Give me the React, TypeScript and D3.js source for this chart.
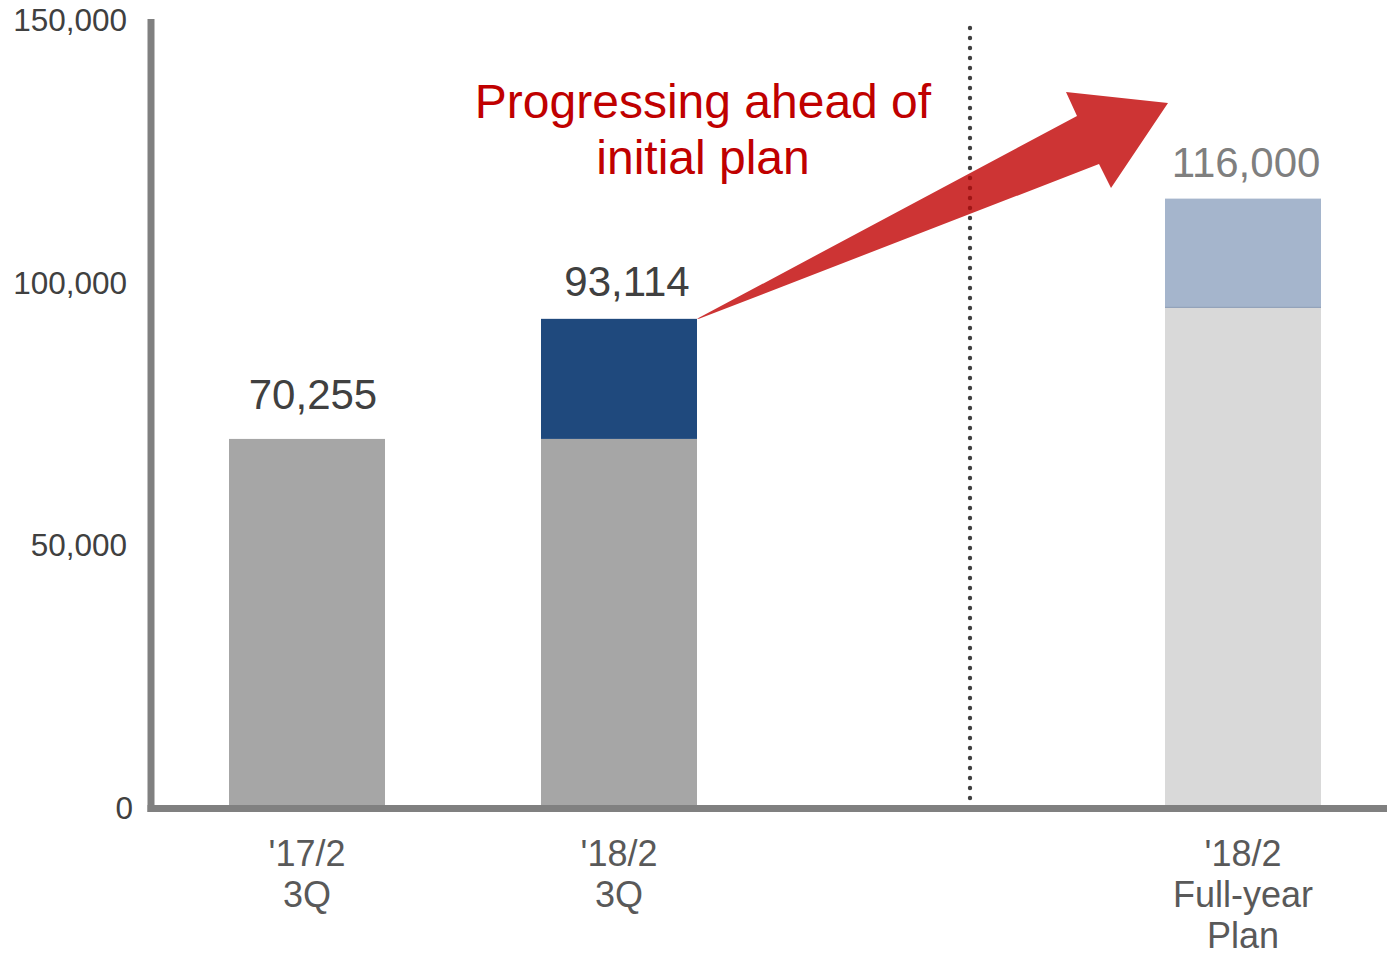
import React from "react";
import * as d3 from "d3";

const categories = ["'17/2 3Q", "'18/2 3Q", "gap", "'18/2 Full-year Plan"];
const categoryLines: string[][] = [["'17/2", "3Q"], ["'18/2", "3Q"], [], ["'18/2", "Full-year", "Plan"]];
const baseValues = [70255, 70255, 0, 95300];
const topValues = [0, 22859, 0, 20700];
const totalLabels = ["70,255", "93,114", "", "116,000"];
const baseColors = ["#a6a6a6", "#a6a6a6", "none", "#d9d9d9"];
const topColors = ["none", "#1f497d", "none", "#a5b5cc"];
const labelColors = ["#404040", "#404040", "none", "#7f7f7f"];
const yTicks = [0, 50000, 100000, 150000];
const annotationLines = ["Progressing ahead of", "initial plan"];

const W = 1387;
const H = 955;
const FONT = "'Liberation Sans', Arial, Helvetica, sans-serif";
const labelGap = [30, 23, 0, 22];
const labelShift = [6, 8, 0, 3];

export default function App() {
  const x = d3.scaleBand<string>().domain(categories).range([151, 1399]).paddingInner(0.5).paddingOuter(0.25);
  const y = d3.scaleLinear().domain([0, 150000]).range([808, 20]);
  const bw = x.bandwidth();
  const fmt = d3.format(",");

  const tailX = (x(categories[1]) as number) + bw;
  const tailY = y(baseValues[1] + topValues[1]);
  const tipX = 1168;
  const tipY = 103;
  const arrowPts: [number, number][] = [
    [tailX, tailY],
    [1077, 116],
    [1066, 92],
    [tipX, tipY],
    [1111, 188],
    [1099, 164],
    [tailX + 2, tailY],
  ];
  const arrowPath = d3.line()(arrowPts) + "Z";
  const divX = 970;

  return (
    <svg width={W} height={H} style={{ position: "absolute", left: 0, top: 0, background: "#fff" }}>
      <defs>
        <clipPath id="arrowClip">
          <path d={arrowPath} />
        </clipPath>
      </defs>
      {categories.map((c, i) => {
        const x0 = x(c) as number;
        if (c === "gap") return null;
        const b = baseValues[i];
        const t = topValues[i];
        return (
          <g key={c}>
            <rect x={x0} y={y(b)} width={bw} height={y(0) - y(b)} fill={baseColors[i]} />
            {t > 0 && (
              <rect x={x0} y={y(b + t)} width={bw} height={y(b) - y(b + t)} fill={topColors[i]} />
            )}
            {i === 3 && (
              <line x1={x0} x2={x0 + bw} y1={y(b)} y2={y(b)} stroke="#8a9ab4" strokeWidth={1} />
            )}
            <text
              x={x0 + bw / 2 + labelShift[i]}
              y={y(b + t) - labelGap[i]}
              textAnchor="middle"
              fontFamily={FONT}
              fontSize={42}
              fill={labelColors[i]}
            >
              {totalLabels[i]}
            </text>
            {categoryLines[i].map((ln, k) => (
              <text
                key={k}
                x={x0 + bw / 2}
                y={866 + k * 41}
                textAnchor="middle"
                fontFamily={FONT}
                fontSize={36}
                fill="#595959"
              >
                {ln}
              </text>
            ))}
          </g>
        );
      })}

      <line x1={divX} x2={divX} y1={28} y2={802} stroke="#404040" strokeWidth={4.4} strokeLinecap="round" strokeDasharray="0 10" />

      <path d={arrowPath} fill="#cd3434" />
      <g clipPath="url(#arrowClip)">
        <line x1={divX} x2={divX} y1={28} y2={802} stroke="#a01515" strokeWidth={4.4} strokeLinecap="round" strokeDasharray="0 10" />
      </g>

      {annotationLines.map((ln, k) => (
        <text key={k} x={703} y={118 + k * 56} textAnchor="middle" fontFamily={FONT} fontSize={48} fill="#c00000">
          {ln}
        </text>
      ))}

      <line x1={151} x2={151} y1={19} y2={812} stroke="#808080" strokeWidth={7} />
      <line x1={147.5} x2={W} y1={808.5} y2={808.5} stroke="#808080" strokeWidth={7} />
      {yTicks.map((t) => (
        <text
          key={t}
          x={t === 0 ? 133 : 127}
          y={y(t) + 11}
          textAnchor="end"
          fontFamily={FONT}
          fontSize={31.5}
          fill="#404040"
        >
          {fmt(t)}
        </text>
      ))}
    </svg>
  );
}
